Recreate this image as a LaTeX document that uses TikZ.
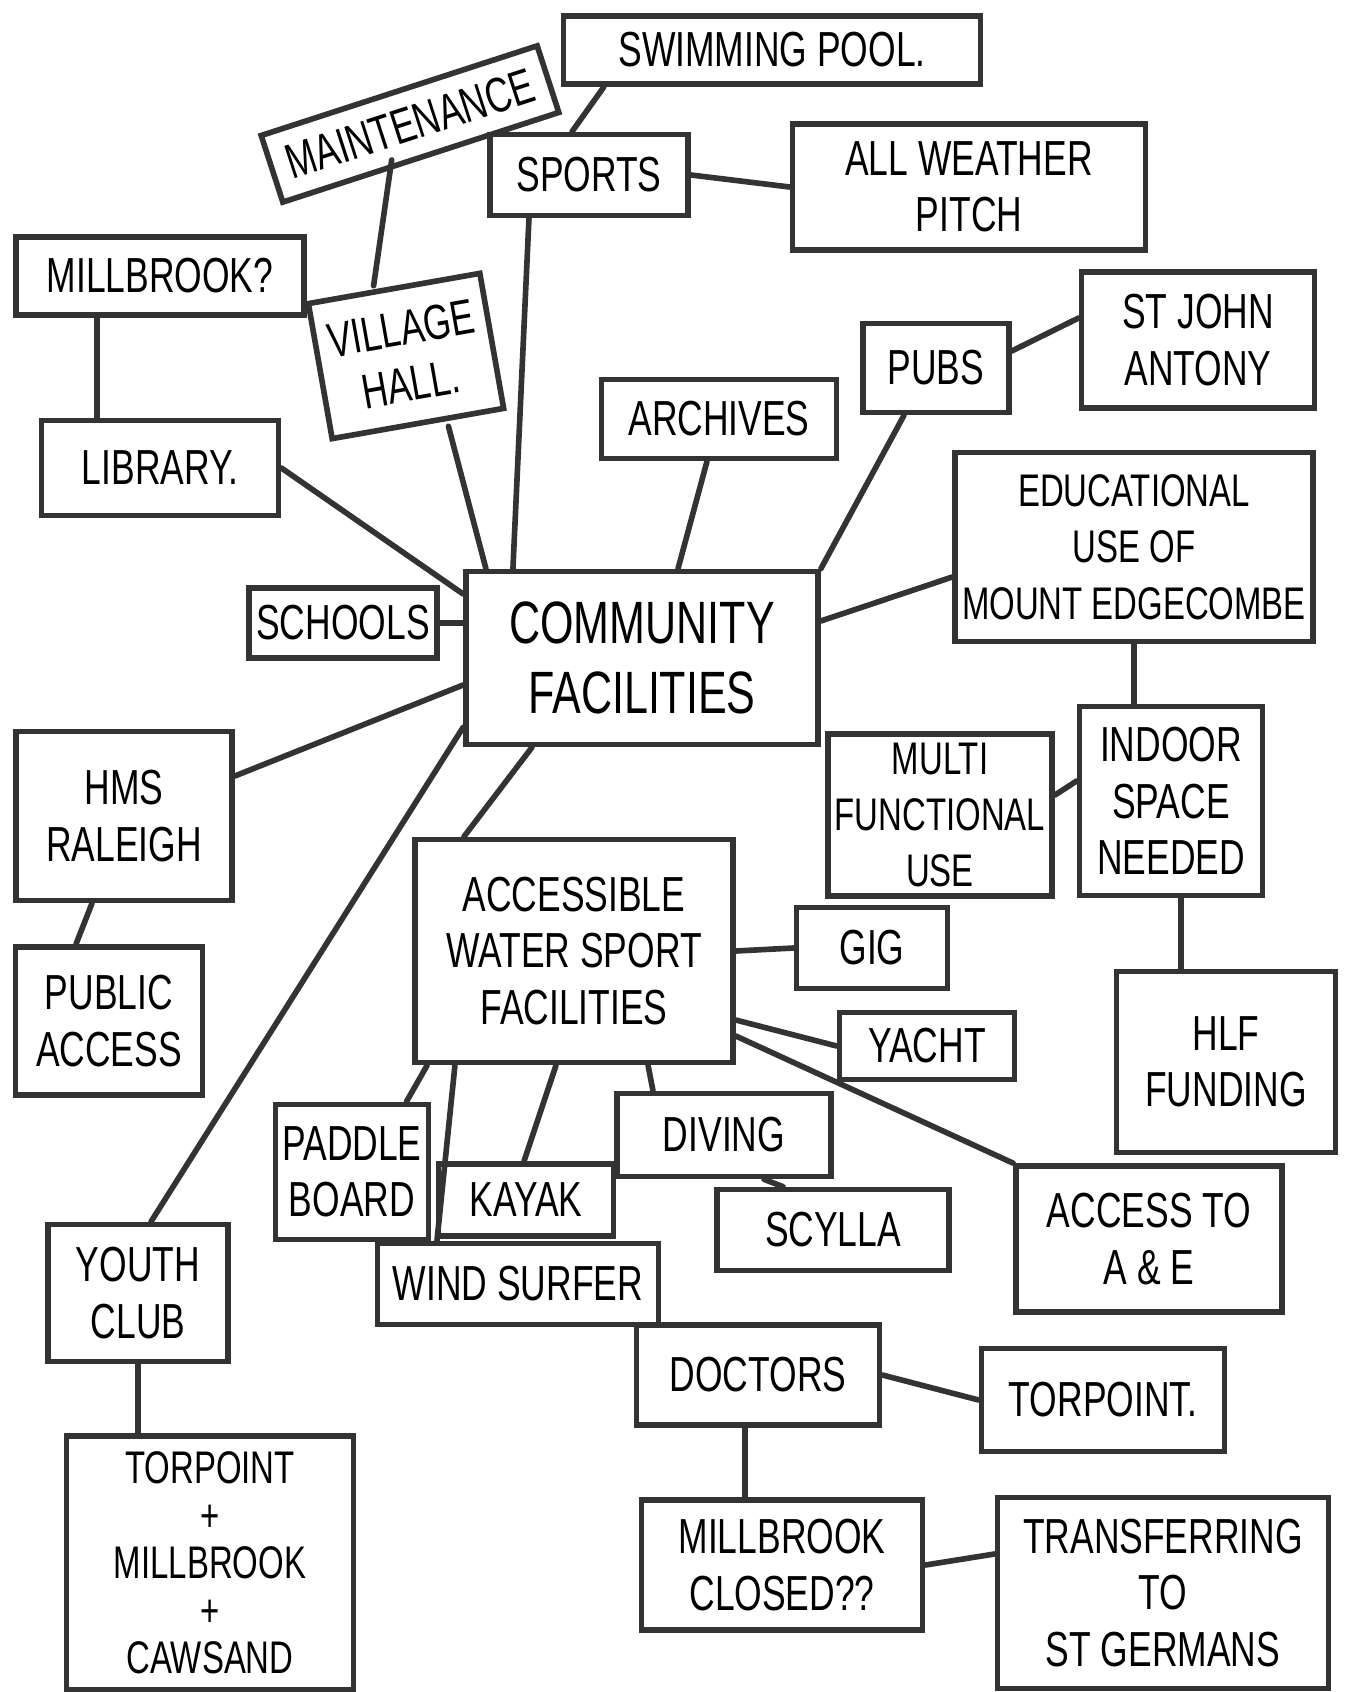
\documentclass[tikz,border=0pt]{standalone}
\usepackage{fontspec}
\setmainfont{Liberation Sans}[FakeStretch=0.72]
\begin{document}
\begin{tikzpicture}[
  x=0.01cm, y=-0.01cm,
  every node/.style={font=\fontsize{14}{16}\selectfont},
  idea/.style 2 args={draw=black!80, line width=1.6pt, inner sep=2pt, align=center, minimum width=#1, minimum height=#2},
  link/.style={draw=black!80, line width=1.6pt, line cap=round}
]
\useasboundingbox (0,0) rectangle (1348,1692);

% Centre
\node[idea={3.52cm}{1.73cm}, font=\fontsize{17}{20}\selectfont] (comm) at (642,658) {COMMUNITY\\FACILITIES};

% Upper part
\node[idea={4.17cm}{0.68cm}] (pool) at (772,50) {SWIMMING POOL.};
\node[idea={2.9cm}{0.7cm}, rotate=18] (maint) at (410,124) {MAINTENANCE};
\node[idea={1.98cm}{0.81cm}] (sports) at (589,175) {SPORTS};
\node[idea={3.53cm}{1.26cm}] (pitch) at (969,187) {ALL WEATHER\\PITCH};
\node[idea={2.88cm}{0.78cm}] (millq) at (160,276) {MILLBROOK?};
\node[idea={1.74cm}{1.37cm}, rotate=10] (hall) at (406,356) {VILLAGE\\HALL.};
\node[idea={2.33cm}{1.36cm}] (stjohn) at (1198,340) {ST JOHN\\ANTONY};
\node[idea={1.46cm}{0.89cm}] (pubs) at (936,368) {PUBS};
\node[idea={2.35cm}{0.79cm}] (archives) at (719,419) {ARCHIVES};
\node[idea={2.37cm}{0.95cm}] (library) at (160,468) {LIBRARY.};
\node[idea={3.53cm}{1.89cm}, font=\fontsize{13}{16}\selectfont] (edu) at (1134,547) {EDUCATIONAL\\USE OF\\MOUNT EDGECOMBE};
\node[idea={1.82cm}{0.7cm}] (schools) at (343,623) {SCHOOLS};

\draw[link] ([xshift=-1.68cm]pool.south) -- ([xshift=-0.17cm]sports.north);
\draw[link] (sports.east) -- (pitch.west);
\draw[link] ([xshift=-0.3cm]maint.south) -- ([xshift=-0.2cm]hall.north);
\draw[link] ([xshift=-0.63cm]millq.south) -- ([xshift=-0.63cm]library.north);
\draw[link] ([xshift=-0.6cm]sports.south) -- ([xshift=-1.29cm]comm.north);
\draw[link] ([xshift=0.3cm]hall.south) -- ([xshift=-1.56cm]comm.north);
\draw[link] (library.east) -- ([yshift=0.64cm]comm.west);
\draw[link] (schools.east) -- (schools.east -| comm.west);
\draw[link] ([xshift=-0.12cm]archives.south) -- ([xshift=0.36cm]comm.north);
\draw[link] ([xshift=-0.32cm]pubs.south) -- (comm.north east);
\draw[link] ([yshift=0.17cm]pubs.east) -- ([yshift=0.22cm]stjohn.west);
\draw[link] ([yshift=-0.3cm]edu.west) -- ([yshift=0.37cm]comm.east);

% Right side
\node[idea={2.21cm}{1.62cm}, font=\fontsize{13}{16}\selectfont] (multi) at (940,815) {MULTI\\FUNCTIONAL\\USE};
\node[idea={1.83cm}{1.89cm}] (indoor) at (1171,801) {INDOOR\\SPACE\\NEEDED};
\node[idea={2.19cm}{1.81cm}] (hlf) at (1226,1062) {HLF\\FUNDING};

\draw[link] (edu.south) -- (edu.south |- indoor.north);
\draw[link] ([yshift=0.2cm]indoor.west) -- ([yshift=0.2cm]multi.east);
\draw[link] ([xshift=0.1cm]indoor.south) -- ([xshift=0.1cm]indoor.south |- hlf.north);

% Left side
\node[idea={2.16cm}{1.69cm}] (hms) at (124,816) {HMS\\RALEIGH};
\node[idea={1.87cm}{1.48cm}] (public) at (109,1021) {PUBLIC\\ACCESS};
\node[idea={1.8cm}{1.37cm}] (youth) at (138,1293) {YOUTH\\CLUB};
\node[idea={2.87cm}{2.54cm}, font=\fontsize{13}{13.5}\selectfont] (tmc) at (210,1563) {TORPOINT\\+\\MILLBROOK\\+\\CAWSAND};

\draw[link] ([yshift=-0.27cm]comm.west) -- ([yshift=0.4cm]hms.east);
\draw[link] ([xshift=-0.32cm]hms.south) -- ([xshift=-0.33cm]public.north);
\draw[link] ([yshift=0.2cm]comm.south west) -- ([xshift=0.13cm]youth.north);
\draw[link] (youth.south) -- (youth.south |- tmc.north);

% Water sports
\node[idea={3.18cm}{2.23cm}] (water) at (574,951) {ACCESSIBLE\\WATER SPORT\\FACILITIES};
\node[idea={1.51cm}{0.81cm}] (gig) at (872,948) {GIG};
\node[idea={1.75cm}{0.67cm}] (yacht) at (927,1046) {YACHT};
\node[idea={2.66cm}{1.46cm}] (ae) at (1149,1239) {ACCESS TO\\A \& E};
\node[idea={1.48cm}{1.35cm}] (paddle) at (352,1172) {PADDLE\\BOARD};
\node[idea={1.75cm}{0.72cm}] (kayak) at (526,1200) {KAYAK};
\node[idea={2.14cm}{0.83cm}] (diving) at (724,1135) {DIVING};
\node[idea={2.32cm}{0.81cm}] (scylla) at (833,1230) {SCYLLA};
\node[idea={2.81cm}{0.81cm}] (wind) at (518,1284) {WIND SURFER};

\draw[link] ([xshift=-1.1cm]comm.south) -- ([xshift=-1.1cm]water.north);
\draw[link] (water.east) -- (gig.west);
\draw[link] ([yshift=-0.69cm]water.east) -- (yacht.west);
\draw[link] ([yshift=-0.85cm]water.east) -- (ae.north west);
\draw[link] ([xshift=0.15cm]water.south west) -- ([xshift=-0.25cm]paddle.north east);
\draw[link] ([xshift=-1.19cm]water.south) -- ([xshift=-0.81cm]wind.north);
\draw[link] ([xshift=-0.18cm]water.south) -- ([xshift=-0.02cm]kayak.north);
\draw[link] ([xshift=0.74cm]water.south) -- ([xshift=-0.71cm]diving.north);
\draw[link] ([xshift=0.4cm]diving.south) -- ([xshift=-0.5cm]scylla.north);

% Doctors
\node[idea={2.43cm}{1.0cm}] (doctors) at (758,1375) {DOCTORS};
\node[idea={2.43cm}{1.03cm}] (torp) at (1103,1400) {TORPOINT.};
\node[idea={2.81cm}{1.3cm}] (mclosed) at (782,1565) {MILLBROOK\\CLOSED??};
\node[idea={3.31cm}{1.91cm}] (transf) at (1163,1593) {TRANSFERRING\\TO\\ST GERMANS};

\draw[link] (doctors.east) -- (torp.west);
\draw[link] ([xshift=-0.13cm]doctors.south) -- ([xshift=-0.13cm]doctors.south |- mclosed.north);
\draw[link] (mclosed.east) -- ([yshift=0.39cm]transf.west);
\end{tikzpicture}
\end{document}
